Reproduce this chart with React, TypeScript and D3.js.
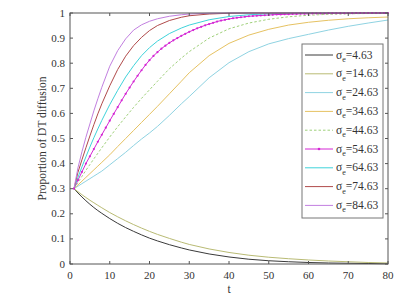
import React from "react";
import * as d3 from "d3";

const T = [1, 2, 3, 4, 5, 6, 7, 8, 10, 12, 14, 16, 18, 20, 22, 25, 28, 30, 35, 40, 45, 50, 55, 60, 65, 70, 75, 80];

const s4 = [0.3, 0.283, 0.267, 0.252, 0.238, 0.225, 0.213, 0.202, 0.181, 0.162, 0.145, 0.13, 0.116, 0.103, 0.092, 0.077, 0.064, 0.056, 0.04, 0.028, 0.019, 0.013, 0.009, 0.006, 0.004, 0.003, 0.002, 0.001];
const s14 = [0.3, 0.288, 0.276, 0.265, 0.254, 0.244, 0.234, 0.224, 0.205, 0.188, 0.172, 0.157, 0.143, 0.13, 0.118, 0.102, 0.087, 0.078, 0.06, 0.046, 0.035, 0.027, 0.021, 0.016, 0.012, 0.009, 0.006, 0.004];
const s24 = [0.3, 0.31, 0.32, 0.33, 0.34, 0.35, 0.36, 0.37, 0.395, 0.42, 0.445, 0.472, 0.498, 0.522, 0.548, 0.592, 0.638, 0.667, 0.742, 0.802, 0.846, 0.877, 0.898, 0.915, 0.932, 0.947, 0.96, 0.972];
const s34 = [0.3, 0.315, 0.33, 0.345, 0.36, 0.375, 0.39, 0.405, 0.435, 0.468, 0.5, 0.532, 0.564, 0.596, 0.628, 0.678, 0.728, 0.762, 0.83, 0.879, 0.912, 0.935, 0.952, 0.963, 0.971, 0.977, 0.981, 0.984];
const s44 = [0.3, 0.325, 0.349, 0.373, 0.396, 0.419, 0.441, 0.463, 0.506, 0.547, 0.586, 0.624, 0.66, 0.694, 0.728, 0.778, 0.82, 0.846, 0.9, 0.937, 0.96, 0.975, 0.985, 0.991, 0.995, 0.997, 0.998, 0.999];
const s64 = [0.3, 0.345, 0.387, 0.427, 0.466, 0.503, 0.538, 0.572, 0.635, 0.692, 0.745, 0.79, 0.83, 0.862, 0.888, 0.918, 0.94, 0.952, 0.973, 0.986, 0.993, 0.997, 0.999, 1, 1, 1, 1, 1];
const s74 = [0.3, 0.365, 0.415, 0.463, 0.51, 0.555, 0.598, 0.638, 0.71, 0.775, 0.828, 0.87, 0.903, 0.93, 0.95, 0.97, 0.983, 0.989, 0.996, 0.999, 1, 1, 1, 1, 1, 1, 1, 1];
const s84 = [0.3, 0.383, 0.447, 0.505, 0.558, 0.61, 0.658, 0.704, 0.788, 0.85, 0.897, 0.932, 0.953, 0.967, 0.977, 0.987, 0.993, 0.996, 0.999, 1, 1, 1, 1, 1, 1, 1, 1, 1];

const T54 = d3.range(1, 81);
const s54 = [0.3, 0.334, 0.367, 0.4, 0.429, 0.458, 0.487, 0.515, 0.543, 0.571, 0.598, 0.625, 0.652, 0.678, 0.703, 0.727, 0.75, 0.772, 0.793, 0.812,
  0.829, 0.844, 0.858, 0.87, 0.881, 0.891, 0.9, 0.909, 0.917, 0.925, 0.932, 0.939, 0.945, 0.951, 0.956, 0.961, 0.966, 0.97, 0.973, 0.976,
  0.979, 0.981, 0.983, 0.985, 0.987, 0.988, 0.989, 0.99, 0.991, 0.992, 0.993, 0.994, 0.994, 0.995, 0.995, 0.996, 0.996, 0.997, 0.997, 0.997,
  0.998, 0.998, 0.998, 0.998, 0.999, 0.999, 0.999, 0.999, 0.999, 0.999, 0.999, 1, 1, 1, 1, 1, 1, 1, 1, 1];

const sigmaLabels = ["4.63", "14.63", "24.63", "34.63", "44.63", "54.63", "64.63", "74.63", "84.63"];
const colors = ["#3a3a3a", "#b9bb74", "#8fd3e2", "#e6c262", "#9fd07a", "#d426d4", "#3fd3da", "#b04a4a", "#c27fe0"];
const seriesData = [s4, s14, s24, s34, s44, s54, s64, s74, s84];

const xTicks = [0, 10, 20, 30, 40, 50, 60, 70, 80];
const yTicks = [0, 0.1, 0.2, 0.3, 0.4, 0.5, 0.6, 0.7, 0.8, 0.9, 1];

export default function App() {
  const W = 412, H = 308;
  const x0 = 70, x1 = 388, yTop = 13, yBot = 264;
  const x = d3.scaleLinear().domain([0, 80]).range([x0, x1]);
  const y = d3.scaleLinear().domain([0, 1]).range([yBot, yTop]);
  const font = "Liberation Serif, Times New Roman, serif";
  const axisCol = "#555";
  const textCol = "#333";
  const tl = 3;

  const line = d3.line<[number, number]>().x((d) => x(d[0])).y((d) => y(d[1]));

  const seriesPts = seriesData.map((s, i) => {
    const ts = i === 5 ? T54 : T;
    return s.map((v, k) => [ts[k], v] as [number, number]);
  });

  const legX = 302, legY = 44, legW = 81, legH = 174;
  const entryY = (i: number) => legY + 11 + i * 18.8;

  return (
    <svg width={W} height={H} style={{ position: "absolute", left: 0, top: 0, background: "#fff", fontFamily: font }}>
      <rect x={0} y={0} width={W} height={H} fill="#fff" />
      {seriesPts.map((pts, i) => (
        <path key={i} d={line(pts) || ""} fill="none" stroke={colors[i]} strokeWidth={1}
          strokeDasharray={i === 4 ? "2.5,2" : undefined} />
      ))}
      {seriesPts[5].map((p, k) => (
        <circle key={"m" + k} cx={x(p[0])} cy={y(p[1])} r={1.1} fill={colors[5]} />
      ))}
      <rect x={x0} y={yTop} width={x1 - x0} height={yBot - yTop} fill="none" stroke={axisCol} strokeWidth={1} />
      {xTicks.map((t) => (
        <g key={"xt" + t}>
          <line x1={x(t)} x2={x(t)} y1={yBot} y2={yBot - tl} stroke={axisCol} />
          <line x1={x(t)} x2={x(t)} y1={yTop} y2={yTop + tl} stroke={axisCol} />
          <text x={x(t)} y={yBot + 15} textAnchor="middle" fontFamily={font} fontSize={11} fill={textCol}>{t}</text>
        </g>
      ))}
      {yTicks.map((t) => (
        <g key={"yt" + t}>
          <line x1={x0} x2={x0 + tl} y1={y(t)} y2={y(t)} stroke={axisCol} />
          <line x1={x1} x2={x1 - tl} y1={y(t)} y2={y(t)} stroke={axisCol} />
          <text x={x0 - 5} y={y(t) + 3.5} textAnchor="end" fontFamily={font} fontSize={11} fill={textCol}>{String(+t.toFixed(1))}</text>
        </g>
      ))}
      <text x={229} y={293} textAnchor="middle" fontFamily={font} fontSize={11.5} fill={textCol}>t</text>
      <text transform={`translate(46,${(yTop + yBot) / 2}) rotate(-90)`} textAnchor="middle" fontFamily={font} fontSize={11.5} fill={textCol}>Proportion of DT diffusion</text>
      <rect x={legX} y={legY} width={legW} height={legH} fill="#fff" stroke="#777" strokeWidth={1} />
      {sigmaLabels.map((lab, i) => (
        <g key={"lg" + i}>
          <line x1={legX + 3} x2={legX + 31} y1={entryY(i)} y2={entryY(i)} stroke={colors[i]} strokeWidth={1}
            strokeDasharray={i === 4 ? "2.5,2" : undefined} />
          {i === 5 && <circle cx={legX + 17} cy={entryY(i)} r={1.3} fill={colors[5]} />}
          <text x={legX + 34} y={entryY(i) + 3.5} fontFamily={font} fontSize={11.5} fill={textCol}>
            σ<tspan fontSize={8} dy={3.5}>e</tspan><tspan dy={-3.5}>={lab}</tspan>
          </text>
        </g>
      ))}
    </svg>
  );
}
